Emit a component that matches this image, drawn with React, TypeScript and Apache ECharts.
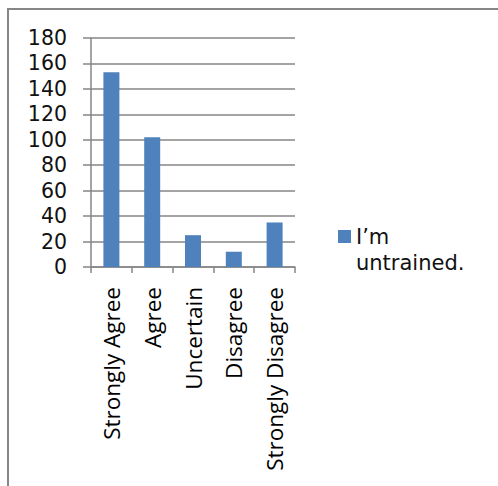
import React, { useEffect, useRef } from "react";
import * as echarts from "echarts";

const categories = ["Strongly Agree", "Agree", "Uncertain", "Disagree", "Strongly Disagree"];
const seriesName = "I’m untrained.";
const legendLines = ["I’m", "untrained."];
const values = [153, 102, 25, 12, 35];
const yMin = 0;
const yMax = 180;
const yStep = 20;

const FONT = "'Open Sans', 'Liberation Sans', sans-serif";
const NUM_FONT = "'DejaVu Sans', 'Liberation Sans', sans-serif";
const GRAY = "#868686";

export default function App() {
  const ref = useRef<HTMLDivElement>(null);
  useEffect(() => {
    document.body.style.margin = "0";
    const chart = echarts.init(ref.current!, null, { renderer: "svg" });
    chart.setOption({
      animation: false,
      backgroundColor: "#ffffff",
      textStyle: { fontFamily: FONT },
      graphic: [
        {
          type: "rect",
          shape: { x: 8, y: 9, width: 700, height: 700 },
          style: { fill: "none", stroke: GRAY, lineWidth: 2 },
          silent: true,
        },
      ],
      grid: { left: 91, top: 38, right: 203, bottom: 219, containLabel: false },
      legend: {
        show: true,
        data: [seriesName],
        left: 338,
        top: 224,
        padding: 0,
        orient: "vertical",
        icon: "path://M0,0H13V13H0Z M0,40L0.01,40",
        itemWidth: 13,
        itemHeight: 40,
        formatter: () => legendLines.join("\n"),
        textStyle: { fontFamily: NUM_FONT, fontSize: 21, color: "#111", lineHeight: 26 },
      },
      xAxis: {
        type: "category",
        data: categories,
        boundaryGap: true,
        axisLine: { show: true, lineStyle: { color: GRAY, width: 1.5 } },
        axisTick: { show: true, alignWithLabel: false, length: 6, lineStyle: { color: GRAY, width: 1.5 } },
        axisLabel: {
          rotate: 90,
          margin: 20,
          interval: 0,
          fontFamily: FONT,
          fontSize: 22.5,
          color: "#000",
        },
        splitLine: { show: false },
      },
      yAxis: {
        type: "value",
        min: yMin,
        max: yMax,
        interval: yStep,
        axisLine: { show: true, lineStyle: { color: GRAY, width: 1.5 } },
        axisTick: { show: true, length: 8, lineStyle: { color: GRAY, width: 1.5 } },
        axisLabel: { margin: 24, fontFamily: NUM_FONT, fontSize: 20.5, lineHeight: 21, color: "#111" },
        splitLine: { show: true, lineStyle: { color: GRAY, width: 1.5 } },
      },
      series: [
        {
          name: seriesName,
          type: "bar",
          data: values,
          barWidth: 16,
          itemStyle: { color: "#4F81BD" },
        },
      ],
    });
    return () => chart.dispose();
  }, []);
  return (
    <div
      ref={ref}
      style={{ position: "fixed", left: 0, top: 0, width: 498, height: 486 }}
    />
  );
}
